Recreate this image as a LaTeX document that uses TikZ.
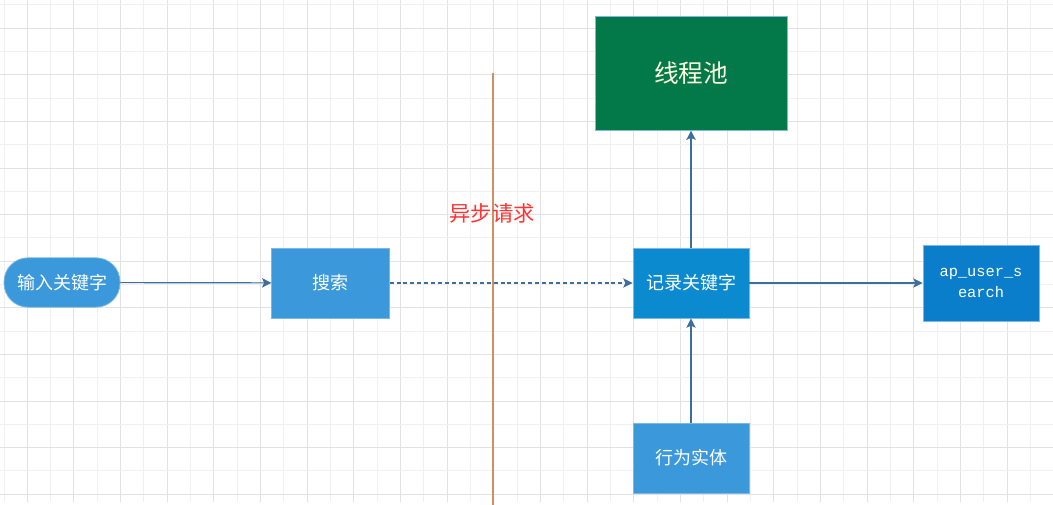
\documentclass[tikz,border=0pt]{standalone}
\usepackage{fontspec}
\setmainfont{Noto Sans CJK SC}
\setmonofont{Liberation Mono}
\usetikzlibrary{arrows.meta}

\definecolor{gridminor}{HTML}{F0F0F0}
\definecolor{gridmajor}{HTML}{E2E2E2}
\definecolor{boxblue}{HTML}{3A98DB}
\definecolor{deepblue}{HTML}{0B8AD0}
\definecolor{tableblue}{HTML}{0A7ECB}
\definecolor{poolgreen}{HTML}{037848}
\definecolor{edgeblue}{HTML}{7DB8E4}
\definecolor{linkblue}{HTML}{3D6E9E}
\definecolor{splitline}{HTML}{D08D66}
\definecolor{asyncred}{HTML}{FF3333}

\tikzset{
  box/.style={draw=edgeblue, line width=0.6pt, text=white, inner sep=0pt, font=\fontsize{13.5}{16}\selectfont},
  link/.style={draw=linkblue, line width=0.9pt, -{Stealth[length=7pt,width=7pt,inset=1.5pt]}}
}

\begin{document}
\begin{tikzpicture}[x=0.75pt,y=-0.75pt]
\useasboundingbox (0,0) rectangle (1053,505);
\fill[white] (0,0) rectangle (1053,505);

% background grid
\foreach \k in {0,...,45} {
  \pgfmathsetmacro{\gx}{4+23.33*\k}
  \ifodd\k \def\gc{gridmajor}\else\def\gc{gridminor}\fi
  \draw[\gc, line width=0.75pt] (\gx,0) -- (\gx,502);
}
\foreach \k in {0,...,21} {
  \pgfmathsetmacro{\gy}{5+23.3*\k}
  \ifodd\k \def\gc{gridmajor}\else\def\gc{gridminor}\fi
  \draw[\gc, line width=0.75pt] (0,\gy) -- (1053,\gy);
}

% split line
\coordinate (splittop) at (493,73);
\coordinate (splitbot) at (493,505);
\draw[splitline, line width=1.5pt] (splittop) -- (splitbot);
\node[text=asyncred, font=\fontsize{16}{18}\selectfont] (async) at (492,213) {异步请求};

% nodes
\node[box, fill=boxblue, rounded corners=18pt, minimum width=87pt, minimum height=37pt] (input) at (62,282.5) {输入关键字};
\node[box, fill=boxblue, minimum width=88pt, minimum height=52.5pt] (search) at (330.5,283) {搜索};
\node[box, fill=deepblue, minimum width=87pt, minimum height=52.5pt] (record) at (691,283) {记录关键字};
\node[box, fill=tableblue, minimum width=87pt, minimum height=57pt, align=center, font=\ttfamily\fontsize{11.5}{15.5}\selectfont] (table) at (981,283) {ap\_user\_s\\earch};
\node[box, fill=poolgreen, text=white!88!yellow, minimum width=144pt, minimum height=85pt, font=\fontsize{18.5}{22}\selectfont] (pool) at (691,73.5) {线程池};
\node[box, fill=boxblue, minimum width=87pt, minimum height=52.5pt] (behave) at (691,458) {行为实体};

% connectors
\draw[link] (input) -- (search);
\draw[link, dash pattern=on 3pt off 2.2pt] (search) -- (record);
\draw[link] (record) -- (table);
\draw[link] (record) -- (pool);
\draw[link] (behave) -- (record);
\end{tikzpicture}
\end{document}
